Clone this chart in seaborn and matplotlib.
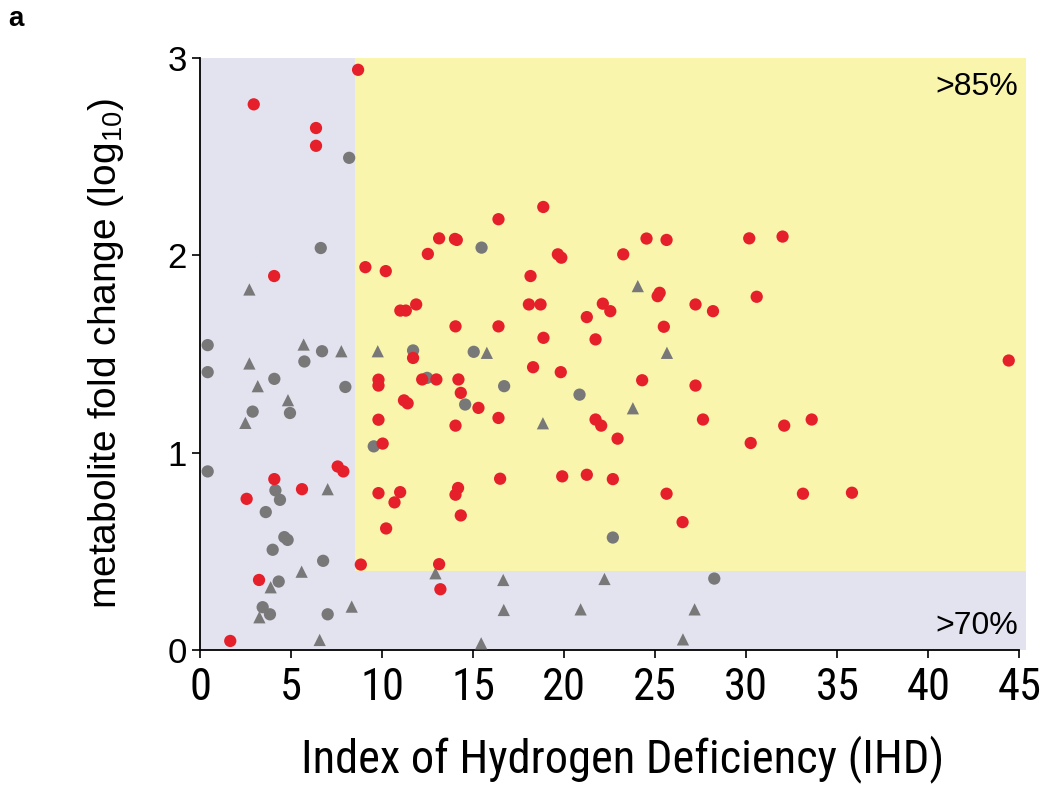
import pandas as pd
import matplotlib.pyplot as plt
import seaborn as sns

# 数据: 红色圆点
red_x = [8.68, 2.95, 6.37, 6.37, 4.07, 9.08, 10.2, 11.0, 11.3, 9.8, 9.8, 11.2, 11.4,
         9.8, 10.03, 7.56, 7.87, 4.08, 5.60, 2.56, 9.8, 10.99, 10.68, 10.22, 8.83,
         3.24, 1.66,
         18.85, 16.39, 13.13, 14.0, 14.1, 12.51, 19.65, 19.84, 18.15, 18.06, 18.7,
         11.87, 14.03, 16.39, 18.86, 21.24, 21.72, 11.70, 18.29, 19.81, 12.2, 12.98,
         14.19, 14.32, 15.29,
         16.39, 14.03, 16.48, 19.89, 21.24, 14.17, 14.03, 14.32, 13.13, 13.20,
         24.52, 25.62, 30.16, 31.99, 23.24, 25.24, 25.13, 27.21, 28.17, 30.57,
         22.12, 22.53, 25.47, 24.28, 27.21,
         21.72, 22.03, 22.93, 27.62, 32.08, 33.59, 30.24, 22.67, 25.62, 26.5,
         33.11, 35.8, 44.41]
red_y = [2.94, 2.765, 2.645, 2.555, 1.895, 1.94, 1.92, 1.72, 1.72, 1.37, 1.34, 1.265, 1.25,
         1.167, 1.046, 0.93, 0.905, 0.866, 0.815, 0.766, 0.795, 0.80, 0.748, 0.616, 0.433,
         0.355, 0.046,
         2.245, 2.183, 2.086, 2.083, 2.078, 2.007, 2.005, 1.988, 1.895, 1.751, 1.751,
         1.751, 1.64, 1.64, 1.582, 1.687, 1.574, 1.48, 1.433, 1.408, 1.371, 1.371,
         1.371, 1.303, 1.227,
         1.176, 1.137, 0.868, 0.88, 0.888, 0.821, 0.787, 0.682, 0.435, 0.308,
         2.085, 2.078, 2.086, 2.095, 2.005, 1.81, 1.793, 1.751, 1.717, 1.79,
         1.755, 1.717, 1.638, 1.367, 1.34,
         1.168, 1.137, 1.071, 1.168, 1.137, 1.168, 1.049, 0.866, 0.792, 0.648,
         0.792, 0.797, 1.467]

# 灰色圆点
grey_x = [8.19, 6.63, 0.42, 6.70, 5.73, 0.42, 4.08, 7.98, 2.89, 4.94, 9.54, 0.42,
          4.14, 4.39, 3.61, 4.63, 4.81, 3.99, 6.76, 4.32, 3.44, 3.84, 7.01,
          15.46, 11.70, 15.03, 12.47, 16.70, 20.84, 14.56, 22.67, 28.24]
grey_y = [2.494, 2.037, 1.545, 1.514, 1.462, 1.408, 1.374, 1.333, 1.208, 1.201, 1.032, 0.905,
          0.809, 0.761, 0.699, 0.572, 0.558, 0.508, 0.452, 0.347, 0.217, 0.181, 0.181,
          2.039, 1.518, 1.511, 1.379, 1.337, 1.294, 1.244, 0.57, 0.362]

# 灰色三角
tri_x = [2.71, 5.69, 7.76, 9.76, 2.71, 3.17, 4.83, 2.49, 7.01, 5.58, 3.88, 3.26, 8.33, 6.57,
         15.75, 18.83, 12.93, 16.65, 16.68, 20.9, 15.44, 24.04, 25.64, 23.77, 22.21,
         27.16, 26.52]
tri_y = [1.827, 1.548, 1.514, 1.514, 1.452, 1.337, 1.266, 1.151, 0.815, 0.397, 0.318, 0.166,
         0.22, 0.051, 1.506, 1.149, 0.389, 0.355, 0.203, 0.206, 0.034, 1.844, 1.506,
         1.225, 0.36, 0.206, 0.054]

df = pd.DataFrame({
    'IHD': tri_x + grey_x + red_x,
    'fold': tri_y + grey_y + red_y,
    'group': ['grey_triangle'] * len(tri_x) + ['grey_circle'] * len(grey_x) + ['red_circle'] * len(red_x),
})

sns.set_style('ticks')
plt.rcParams['font.family'] = ['Liberation Sans', 'DejaVu Sans']
plt.rcParams['mathtext.fontset'] = 'custom'
plt.rcParams['mathtext.rm'] = 'Liberation Sans'
plt.rcParams['mathtext.it'] = 'Liberation Sans:italic'
for k in ['text.color', 'axes.labelcolor', 'xtick.color', 'ytick.color']:
    plt.rcParams[k] = 'black'

cond_font = ['Roboto Condensed', 'Liberation Sans', 'DejaVu Sans']
lavender = '#E3E2EF'
yellow = '#F9F5AC'
palette = {'red_circle': '#E6202A', 'grey_circle': '#787878', 'grey_triangle': '#787878'}
markers = {'red_circle': 'o', 'grey_circle': 'o', 'grey_triangle': '^'}

fig = plt.figure(figsize=(10.5, 7.93), dpi=100)
ax = fig.add_axes([0.1905, 0.1803, 0.7865, 0.7466])
ax.set_facecolor(lavender)

# 黄色区域
x_max = 45.35
ax.fill_between([8.5, x_max], 0.4, 3.0, color=yellow, lw=0, zorder=0)

sns.scatterplot(data=df, x='IHD', y='fold', hue='group', style='group',
                palette=palette, markers=markers, s=78, linewidth=0,
                legend=False, ax=ax, zorder=3)

ax.set_xlim(0, x_max)
ax.set_ylim(0, 3.0)
ax.set_xticks(range(0, 46, 5))
ax.set_yticks([0, 1, 2, 3])
for s in ['top', 'right']:
    ax.spines[s].set_visible(False)
ax.spines['bottom'].set_bounds(0, 45)
for s in ['left', 'bottom']:
    ax.spines[s].set_linewidth(1.3)
    ax.spines[s].set_color('black')
ax.tick_params(axis='both', direction='out', length=6, width=1.2, color='black')
ax.tick_params(axis='x', pad=6)

for lab in ax.get_xticklabels():
    lab.set_family(cond_font)
    lab.set_fontsize(32)
for lab in ax.get_yticklabels():
    lab.set_fontsize(25)

ax.set_xlabel('Index of Hydrogen Deficiency (IHD)', fontsize=33.5,
              family=cond_font)
ax.xaxis.set_label_coords(0.512, -0.143)
ax.set_ylabel(r'metabolite fold change (log$_{10}$)', fontsize=28, labelpad=30)

ax.text(44.9, 2.93, '>85%', ha='right', va='top', fontsize=23)
ax.text(44.9, 0.12, '>70%', ha='right', va='center', fontsize=23)
fig.text(0.008, 0.993, 'a', fontsize=20, fontweight='bold', va='top')

plt.savefig('out.png', dpi=100)
